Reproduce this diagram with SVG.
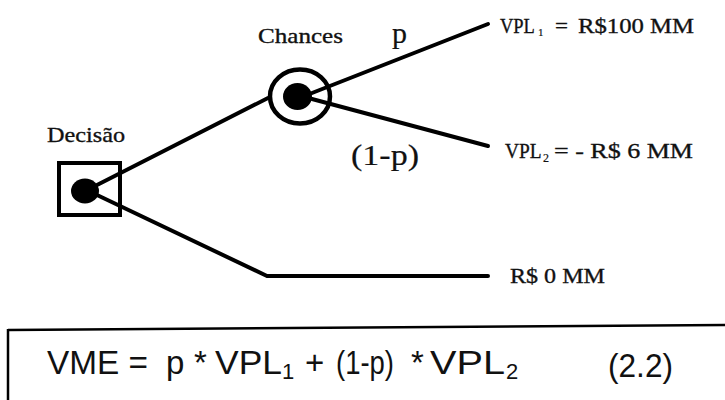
<svg xmlns="http://www.w3.org/2000/svg" width="725" height="400" viewBox="0 0 725 400">
<style>
.ln{fill:none;stroke:#000;stroke-width:4;stroke-linecap:round;stroke-linejoin:round}
.t{font-family:"Liberation Serif","Times New Roman",serif;font-size:22px;fill:#111;stroke:#111;stroke-width:0.35}
.f{font-family:"Liberation Sans",Arial,sans-serif;font-size:33px;fill:#111}
.fs{font-family:"Liberation Sans",Arial,sans-serif;font-size:22px;fill:#111}
.dot{fill:#000}
</style>
<rect width="725" height="400" fill="#fff"/>
<g id="connectors">
  <polyline class="ln" points="97,185 268,98"/>
  <polyline class="ln" points="97,195 267,276 488,276"/>
  <polyline class="ln" points="312,93 488,24"/>
  <polyline class="ln" points="312,99 488,146"/>
  <text class="t" x="392" y="43" style="font-size:30px;stroke-width:0.2">p</text>
  <text class="t" x="351" y="165" style="font-size:30px;stroke-width:0.2" textLength="68" lengthAdjust="spacingAndGlyphs">(1-p)</text>
</g>
<g id="decision">
  <rect x="59" y="163" width="61" height="52" fill="none" stroke="#000" stroke-width="4"/>
  <ellipse class="dot" cx="85" cy="191" rx="14" ry="12.5"/>
  <text class="t" x="47" y="142" textLength="78" lengthAdjust="spacingAndGlyphs">Decisão</text>
</g>
<g id="chance">
  <ellipse cx="300" cy="96.5" rx="30" ry="27" fill="none" stroke="#000" stroke-width="4.5"/>
  <ellipse class="dot" cx="297.5" cy="96.5" rx="14.5" ry="13.5"/>
  <text class="t" x="258" y="43" textLength="85" lengthAdjust="spacingAndGlyphs">Chances</text>
</g>
<g id="outcome1">
  <text class="t" transform="translate(500,33) scale(0.84,1)">VPL</text>
  <text class="t" x="538" y="36" style="font-size:11px;stroke-width:0.2">1</text>
  <text class="t" x="555" y="33" textLength="13" lengthAdjust="spacingAndGlyphs">=</text>
  <text class="t" x="578" y="33" textLength="116" lengthAdjust="spacingAndGlyphs">R$100 MM</text>
</g>
<g id="outcome2">
  <text class="t" transform="translate(505,158) scale(0.88,1)">VPL</text>
  <text class="t" x="543" y="162" style="font-size:12px;stroke-width:0.2">2</text>
  <text class="t" x="554" y="158" textLength="139" lengthAdjust="spacingAndGlyphs">= - R$ 6 MM</text>
</g>
<g id="outcome3">
  <text class="t" x="510" y="283" textLength="95" lengthAdjust="spacingAndGlyphs">R$ 0 MM</text>
</g>
<g id="formula">
  <line x1="8" y1="330" x2="725" y2="325" stroke="#000" stroke-width="2.5"/>
  <line x1="8" y1="329" x2="8" y2="400" stroke="#000" stroke-width="2.5"/>
  <text class="f" x="47" y="374" textLength="101" lengthAdjust="spacingAndGlyphs">VME =</text>
  <text class="f" x="166" y="374">p</text>
  <text class="f" x="194" y="374">*</text>
  <text class="f" x="215" y="374" textLength="67" lengthAdjust="spacingAndGlyphs">VPL</text>
  <text class="fs" x="282" y="379">1</text>
  <text class="f" x="305" y="374">+</text>
  <text class="f" x="336" y="374" textLength="58" lengthAdjust="spacingAndGlyphs">(1-p)</text>
  <text class="f" x="411" y="374">*</text>
  <text class="f" x="430" y="374" textLength="75" lengthAdjust="spacingAndGlyphs">VPL</text>
  <text class="fs" x="506" y="379">2</text>
  <text class="f" x="608" y="377" textLength="65" lengthAdjust="spacingAndGlyphs">(2.2)</text>
</g>
</svg>
